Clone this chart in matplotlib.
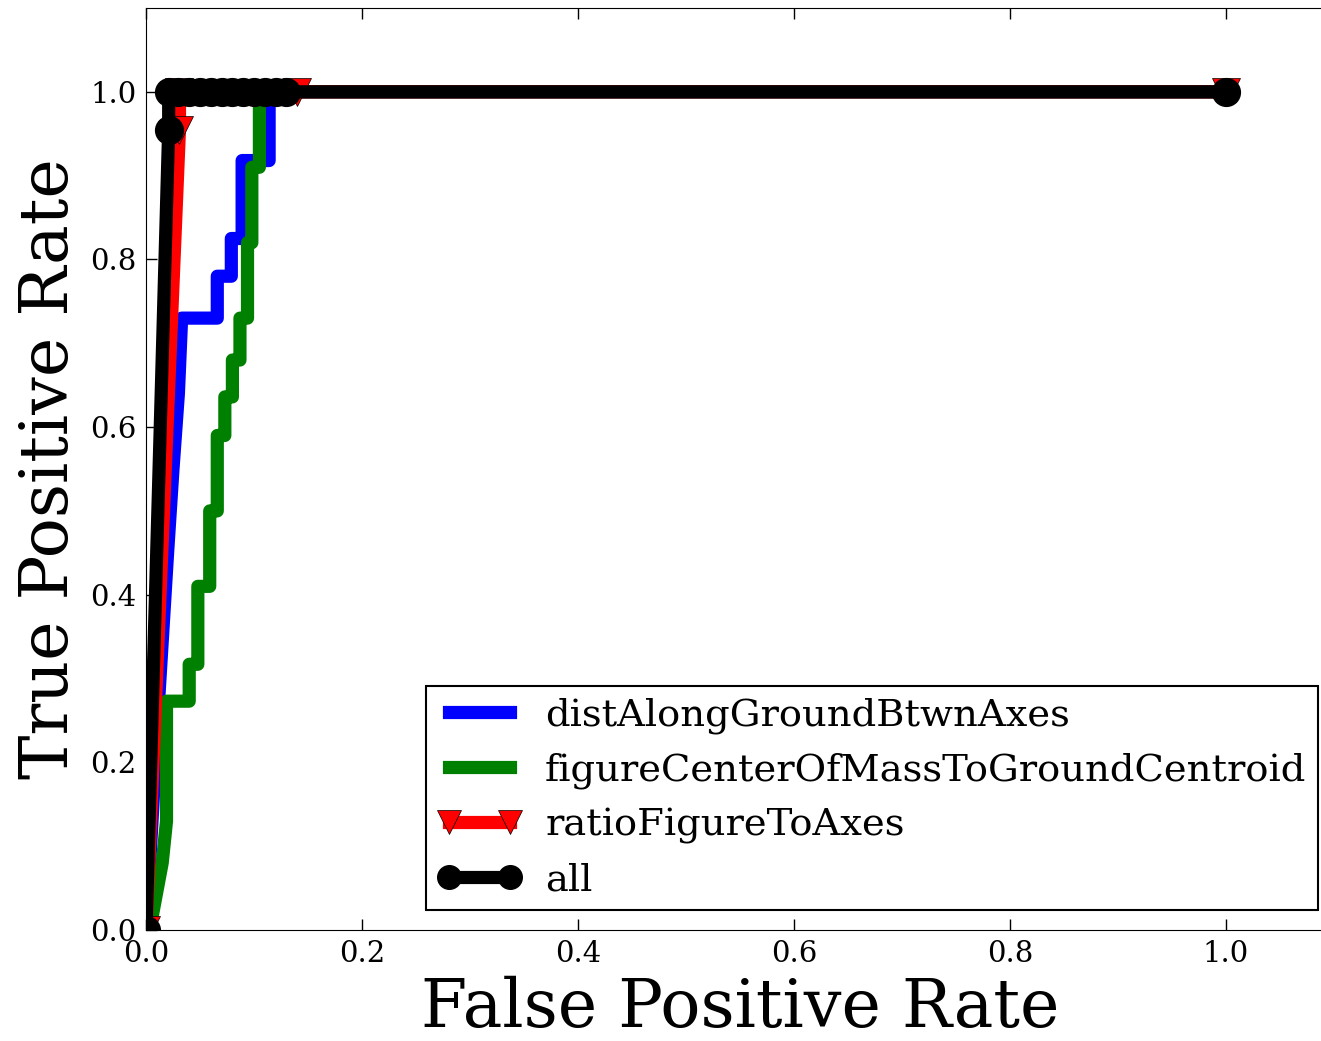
import matplotlib
matplotlib.use("Agg")
import matplotlib.pyplot as plt

# ROC curve points
DIST_FPR = [0.0, 0.012, 0.02, 0.025, 0.03, 0.033, 0.066, 0.066, 0.079, 0.079, 0.089, 0.089,
            0.114, 0.114, 1.0]
DIST_TPR = [0.0, 0.28, 0.45, 0.55, 0.64, 0.73, 0.73, 0.78, 0.78, 0.825, 0.825, 0.918,
            0.918, 1.0, 1.0]

CENTER_FPR = [0.0, 0.006, 0.015, 0.019, 0.019, 0.04, 0.04, 0.048, 0.048, 0.059, 0.059,
              0.066, 0.066, 0.073, 0.073, 0.08, 0.08, 0.087, 0.087, 0.094, 0.094, 0.098,
              0.098, 0.105, 0.105, 1.0]
CENTER_TPR = [0.0, 0.018, 0.08, 0.13, 0.273, 0.273, 0.317, 0.317, 0.41, 0.41, 0.5,
              0.5, 0.59, 0.59, 0.636, 0.636, 0.68, 0.68, 0.73, 0.73, 0.82, 0.82,
              0.91, 0.91, 1.0, 1.0]

RATIO_FPR = [0.0, 0.031, 0.031, 0.14, 1.0]
RATIO_TPR = [0.0, 0.955, 1.0, 1.0, 1.0]

ALL_FPR = [0.0, 0.021, 0.021, 0.03, 0.04, 0.05, 0.06, 0.07, 0.08, 0.09, 0.10, 0.11,
           0.12, 0.13, 1.0]
ALL_TPR = [0.0, 0.955, 1.0, 1.0, 1.0, 1.0, 1.0, 1.0, 1.0, 1.0, 1.0, 1.0,
           1.0, 1.0, 1.0]

LABELS = ["distAlongGroundBtwnAxes", "figureCenterOfMassToGroundCentroid",
          "ratioFigureToAxes", "all"]
TICKS = [0.0, 0.2, 0.4, 0.6, 0.8, 1.0]


def main():
    plt.rcParams["font.family"] = "DejaVu Serif"
    plt.rcParams["xtick.direction"] = "in"
    plt.rcParams["ytick.direction"] = "in"
    plt.rcParams["xtick.top"] = True
    plt.rcParams["ytick.right"] = True

    fig = plt.figure(figsize=(13.21, 10.41), dpi=100)
    ax = fig.add_axes([146 / 1321, 111 / 1041, 1188 / 1321, 922 / 1041])

    ax.plot(DIST_FPR, DIST_TPR, color="blue", lw=9.5, label=LABELS[0], zorder=2)
    ax.plot(CENTER_FPR, CENTER_TPR, color="green", lw=9.5, label=LABELS[1], zorder=3)
    ax.plot(RATIO_FPR, RATIO_TPR, color="red", lw=9.5, marker="v", markersize=20,
            markeredgecolor="black", markeredgewidth=0.5, label=LABELS[2], zorder=4)
    ax.plot(ALL_FPR, ALL_TPR, color="black", lw=9.5, marker="o", markersize=20,
            label=LABELS[3], zorder=5)

    ax.set_xlim(0, 1.1)
    ax.set_ylim(0, 1.1)
    ax.set_xticks(TICKS)
    ax.set_yticks(TICKS)
    ax.set_xticklabels([f"{t:.1f}" for t in TICKS])
    ax.set_yticklabels([f"{t:.1f}" for t in TICKS])
    ax.tick_params(labelsize=21, length=8, width=1, pad=7)

    ax.set_xlabel("False Positive Rate", fontsize=48, labelpad=6)
    ax.set_ylabel("True Positive Rate", fontsize=48, labelpad=6)

    leg = ax.legend(loc="lower right", bbox_to_anchor=(1318 / 1321, 131 / 1041),
                    bbox_transform=fig.transFigure, fontsize=27.7, numpoints=2,
                    markerscale=0.85, handlelength=2.2, handletextpad=0.6,
                    fancybox=False, framealpha=1, borderaxespad=0,
                    labelspacing=0.48, borderpad=0.3)
    leg.get_frame().set_edgecolor("black")
    leg.get_frame().set_linewidth(1.5)

    fig.savefig("out.png", dpi=100, facecolor="white")


if __name__ == "__main__":
    main()
